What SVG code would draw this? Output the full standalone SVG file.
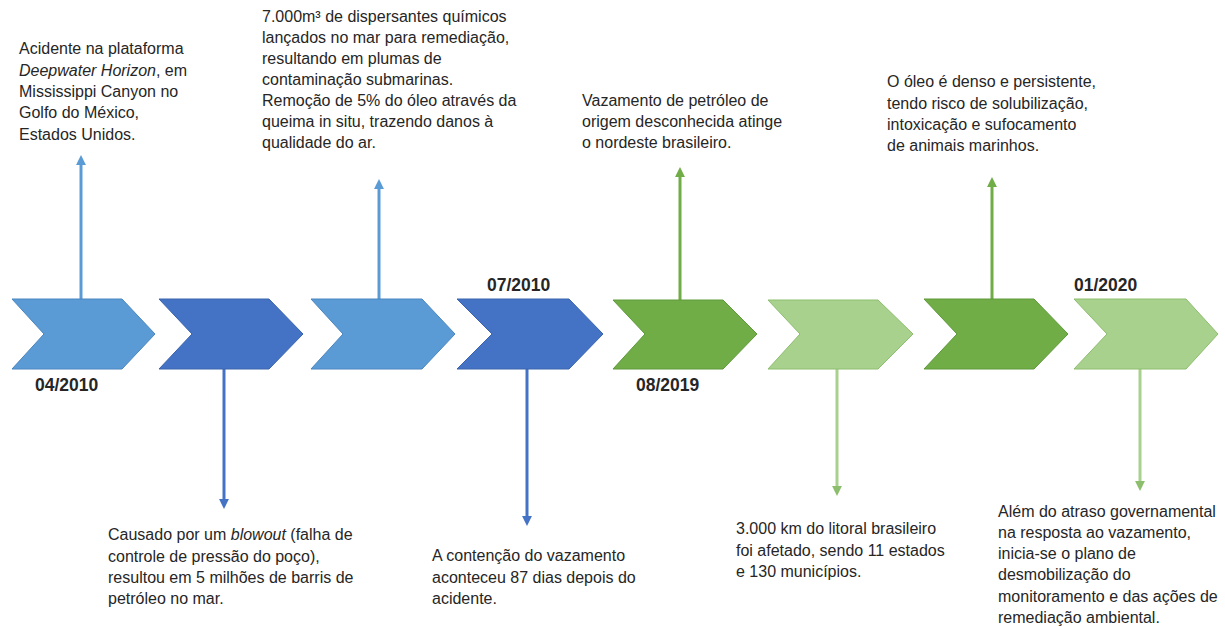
<svg xmlns="http://www.w3.org/2000/svg" width="1225" height="626" viewBox="0 0 1225 626">
<defs>
<style>
.t{font-family:"Liberation Sans",Arial,sans-serif;font-size:16px;fill:#262626}
.d{font-family:"Liberation Sans",Arial,sans-serif;font-size:17.5px;font-weight:bold;fill:#262626}
.c1{fill:#5B9BD5;stroke:#4A86C0;stroke-width:1}
.c2{fill:#4472C4;stroke:#3A64AE;stroke-width:1}
.c3{fill:#70AD47;stroke:#5E9A3A;stroke-width:1}
.c4{fill:#A9D18E;stroke:#8DBE6E;stroke-width:1}
.l1{stroke:#5B9BD5;stroke-width:3;fill:none}
.l2{stroke:#4472C4;stroke-width:3;fill:none}
.l3{stroke:#70AD47;stroke-width:3;fill:none}
.l4{stroke:#A9D18E;stroke-width:3;fill:none}
</style>
<marker id="m1" viewBox="0 0 10 10" refX="5" refY="5" markerWidth="3.3" markerHeight="3.3" orient="auto"><path d="M0,0L10,5L0,10z" fill="#5B9BD5"/></marker>
<marker id="m2" viewBox="0 0 10 10" refX="5" refY="5" markerWidth="3.3" markerHeight="3.3" orient="auto"><path d="M0,0L10,5L0,10z" fill="#4472C4"/></marker>
<marker id="m3" viewBox="0 0 10 10" refX="5" refY="5" markerWidth="3.3" markerHeight="3.3" orient="auto"><path d="M0,0L10,5L0,10z" fill="#70AD47"/></marker>
<marker id="m4" viewBox="0 0 10 10" refX="5" refY="5" markerWidth="3.3" markerHeight="3.3" orient="auto"><path d="M0,0L10,5L0,10z" fill="#8DBE6E"/></marker>
</defs>
<rect width="1225" height="626" fill="#ffffff"/>
<g id="connectors">
<line class="l1" x1="81" y1="299" x2="81" y2="160" marker-end="url(#m1)"/>
<line class="l2" x1="224" y1="369" x2="224" y2="504" marker-end="url(#m2)"/>
<line class="l1" x1="379" y1="299" x2="379" y2="184" marker-end="url(#m1)"/>
<line class="l2" x1="527" y1="369" x2="527" y2="521" marker-end="url(#m2)"/>
<line class="l3" x1="680" y1="300" x2="680" y2="172" marker-end="url(#m3)"/>
<line class="l4" x1="837" y1="369" x2="837" y2="491" marker-end="url(#m4)"/>
<line class="l3" x1="992" y1="299" x2="992" y2="182" marker-end="url(#m3)"/>
<line class="l4" x1="1140" y1="369" x2="1140" y2="486" marker-end="url(#m4)"/>
</g>
<g id="node1"><path class="c1" d="M12,299H122L155,334L122,369H12L44,334Z"/>
<text class="d" x="35" y="391">04/2010</text>
<text class="t" x="19" y="54">Acidente na plataforma</text>
<text class="t" x="19" y="76"><tspan font-style="italic">Deepwater Horizon</tspan>, em</text>
<text class="t" x="19" y="97">Mississippi Canyon no</text>
<text class="t" x="19" y="118">Golfo do México,</text>
<text class="t" x="19" y="140">Estados Unidos.</text>
</g>
<g id="node2"><path class="c2" d="M159,299H269L303,334L269,369H159L192,334Z"/>
<text class="t" x="108" y="540">Causado por um <tspan font-style="italic">blowout</tspan> (falha de</text>
<text class="t" x="108" y="562">controle de pressão do poço),</text>
<text class="t" x="108" y="583">resultou em 5 milhões de barris de</text>
<text class="t" x="108" y="604">petróleo no mar.</text>
</g>
<g id="node3"><path class="c1" d="M311,299H422L455,334L422,369H311L343,334Z"/>
<text class="t" x="262" y="22">7.000m³ de dispersantes químicos</text>
<text class="t" x="262" y="43">lançados no mar para remediação,</text>
<text class="t" x="262" y="64">resultando em plumas de</text>
<text class="t" x="262" y="85">contaminação submarinas.</text>
<text class="t" x="262" y="106">Remoção de 5% do óleo através da</text>
<text class="t" x="262" y="127">queima in situ, trazendo danos à</text>
<text class="t" x="262" y="148">qualidade do ar.</text>
</g>
<g id="node4"><path class="c2" d="M457,299H569L603,334L569,369H457L492,334Z"/>
<text class="d" x="487" y="291">07/2010</text>
<text class="t" x="432" y="561">A contenção do vazamento</text>
<text class="t" x="432" y="583">aconteceu 87 dias depois do</text>
<text class="t" x="432" y="604">acidente.</text>
</g>
<g id="node5"><path class="c3" d="M613,300H723L757,334L723,369H613L645,334Z"/>
<text class="d" x="636" y="391">08/2019</text>
<text class="t" x="582" y="106">Vazamento de petróleo de</text>
<text class="t" x="582" y="127">origem desconhecida atinge</text>
<text class="t" x="582" y="148">o nordeste brasileiro.</text>
</g>
<g id="node6"><path class="c4" d="M768,300H878L913,334L878,369H768L800,334Z"/>
<text class="t" x="736" y="534">3.000 km do litoral brasileiro</text>
<text class="t" x="736" y="556">foi afetado, sendo 11 estados</text>
<text class="t" x="736" y="577">e 130 municípios.</text>
</g>
<g id="node7"><path class="c3" d="M924,299H1034L1068,334L1034,369H924L957,334Z"/>
<text class="t" x="887" y="87">O óleo é denso e persistente,</text>
<text class="t" x="887" y="109">tendo risco de solubilização,</text>
<text class="t" x="887" y="130">intoxicação e sufocamento</text>
<text class="t" x="887" y="151">de animais marinhos.</text>
</g>
<g id="node8"><path class="c4" d="M1074,299H1186L1218,334L1186,369H1074L1107,334Z"/>
<text class="d" x="1074" y="291">01/2020</text>
<text class="t" x="998" y="517">Além do atraso governamental</text>
<text class="t" x="998" y="538">na resposta ao vazamento,</text>
<text class="t" x="998" y="559">inicia-se o plano de</text>
<text class="t" x="998" y="580">desmobilização do</text>
<text class="t" x="998" y="602">monitoramento e das ações de</text>
<text class="t" x="998" y="623">remediação ambiental.</text>
</g>
</svg>
